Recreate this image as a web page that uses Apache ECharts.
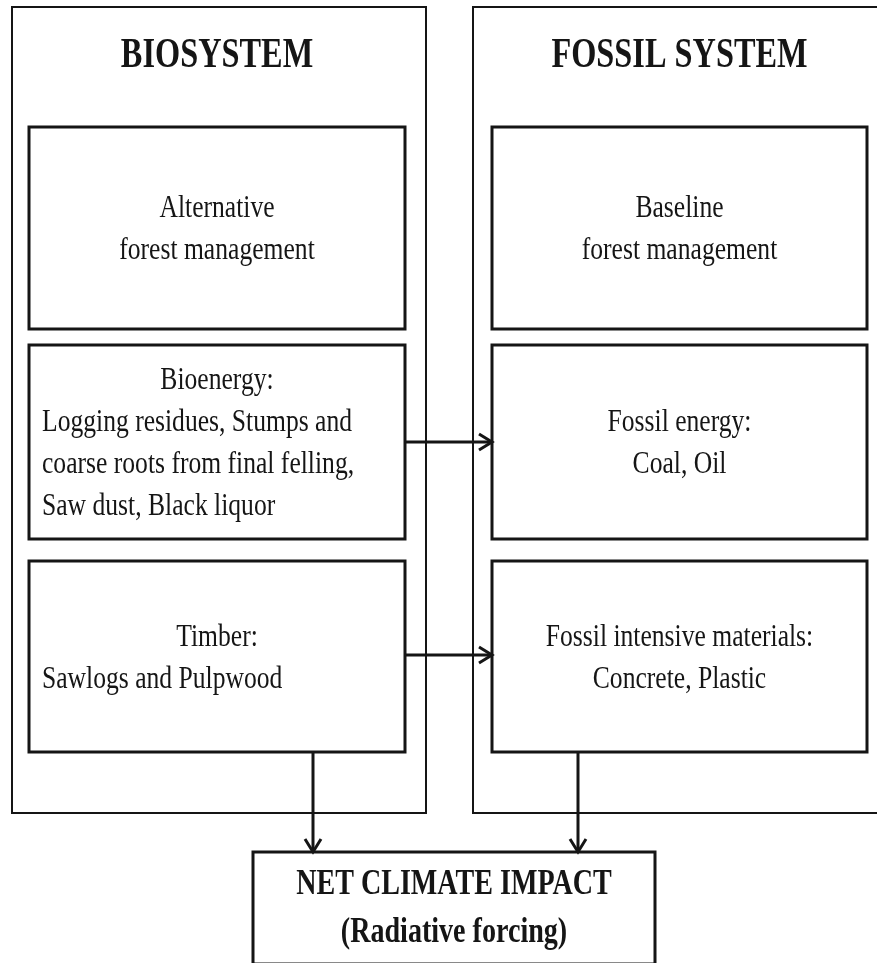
<!DOCTYPE html>
<html>
<head>
<meta charset="utf-8">
<script src="https://cdn.jsdelivr.net/npm/echarts@6/dist/echarts.min.js"></script>
<style>
  html, body { margin: 0; padding: 0; background: #fff; }
  #myChart { width: 877px; height: 963px; }
</style>
</head>
<body>
<div id="myChart"></div>
<script>
// diagram content
const systemTitles = ['BIOSYSTEM', 'FOSSIL SYSTEM'];
const bioTexts = [
  ['Alternative', 'forest management'],
  ['Bioenergy:', 'Logging residues, Stumps and', 'coarse roots from final felling,', 'Saw dust, Black liquor'],
  ['Timber:', 'Sawlogs and Pulpwood']
];
const fossilTexts = [
  ['Baseline', 'forest management'],
  ['Fossil energy:', 'Coal, Oil'],
  ['Fossil intensive materials:', 'Concrete, Plastic']
];
const impactTexts = ['NET CLIMATE IMPACT', '(Radiative forcing)'];
// bio row -> fossil row
const flows = [[1, 1], [2, 2]];

// layout (pixel units on a hidden 877 x 963 grid)
const outerCols = [[12, 426], [473, 880]];
const outerTop = 7, outerBottom = 813;
const innerCols = [[29, 405], [492, 867]];
const innerRows = [[127, 329], [345, 539], [561, 752]];
const impactBox = [253, 852, 655, 964];
const flowY = [442, 655];
const downArrowX = [313, 578];
const bioAlign = [['c', 'c'], ['c', 'l', 'l', 'l'], ['c', 'l']];
const lineGap = 42;
const textPad = 13;
const ink = '#151515';

const rects = [];
outerCols.forEach(c => rects.push([c[0], outerTop, c[1], outerBottom, 2]));
innerCols.forEach(c => innerRows.forEach(r => rects.push([c[0], r[0], c[1], r[1], 3])));
rects.push([impactBox[0], impactBox[1], impactBox[2], impactBox[3], 3]);

const texts = [];
systemTitles.forEach((t, i) => {
  const c = innerCols[i];
  texts.push({ value: [(c[0] + c[1]) / 2, 56], text: t, align: 'center', font: 'bold 42px "Liberation Serif"', sx: 0.77 });
});
function boxLines(lines, col, row, aligns) {
  const cy = (row[0] + row[1]) / 2 + 2;
  lines.forEach((t, i) => {
    const y = cy + (i - (lines.length - 1) / 2) * lineGap;
    const left = aligns && aligns[i] === 'l';
    texts.push({
      value: [left ? col[0] + textPad : (col[0] + col[1]) / 2, y],
      text: t, align: left ? 'left' : 'center',
      font: '32px "Liberation Serif"', sx: 0.8
    });
  });
}
bioTexts.forEach((lines, i) => boxLines(lines, innerCols[0], innerRows[i], bioAlign[i]));
fossilTexts.forEach((lines, i) => boxLines(lines, innerCols[1], innerRows[i], null));
impactTexts.forEach((t, i) => {
  texts.push({ value: [(impactBox[0] + impactBox[2]) / 2, 885 + i * 48], text: t, align: 'center', font: 'bold 36px "Liberation Serif"', sx: 0.78 });
});

const arrows = [];
flows.forEach((f, i) => {
  arrows.push([innerCols[0][1], flowY[i], innerCols[1][0], flowY[i]]);
});
downArrowX.forEach(x => arrows.push([x, innerRows[2][1], x, impactBox[1]]));

const myChart = echarts.init(document.getElementById('myChart'), null, { renderer: 'canvas' });
const option = {
  backgroundColor: '#fff',
  animation: false,
  grid: { left: 0, right: 0, top: 0, bottom: 0 },
  xAxis: { type: 'value', min: 0, max: 877, show: false },
  yAxis: { type: 'value', min: 0, max: 963, inverse: true, show: false },
  series: [
    {
      type: 'custom',
      data: rects,
      renderItem: (params, api) => {
        const p0 = api.coord([api.value(0), api.value(1)]);
        const p1 = api.coord([api.value(2), api.value(3)]);
        return {
          type: 'rect',
          shape: { x: p0[0], y: p0[1], width: p1[0] - p0[0], height: p1[1] - p0[1] },
          style: { fill: '#fff', stroke: ink, lineWidth: api.value(4) }
        };
      }
    },
    {
      type: 'custom',
      data: arrows,
      z: 3,
      renderItem: (params, api) => {
        const a = api.coord([api.value(0), api.value(1)]);
        const b = api.coord([api.value(2), api.value(3)]);
        const dx = b[0] - a[0], dy = b[1] - a[1];
        const len = Math.sqrt(dx * dx + dy * dy);
        const ux = dx / len, uy = dy / len;
        const hl = 13, hw = 8;
        const back = [b[0] - ux * hl, b[1] - uy * hl];
        return {
          type: 'group',
          children: [
            { type: 'polyline', shape: { points: [a, b] }, style: { stroke: ink, lineWidth: 3, fill: null } },
            {
              type: 'polyline',
              shape: { points: [[back[0] - uy * hw, back[1] + ux * hw], b, [back[0] + uy * hw, back[1] - ux * hw]] },
              style: { stroke: ink, lineWidth: 3, fill: null }
            }
          ]
        };
      }
    },
    {
      type: 'custom',
      data: texts,
      z: 4,
      renderItem: (params, api) => {
        const d = texts[params.dataIndex];
        const p = api.coord(d.value);
        return {
          type: 'text',
          x: p[0], y: p[1],
          scaleX: d.sx,
          style: { text: d.text, x: 0, y: 0, font: d.font, fill: ink, align: d.align, verticalAlign: 'middle' }
        };
      }
    }
  ]
};
myChart.setOption(option);
</script>
</body>
</html>
